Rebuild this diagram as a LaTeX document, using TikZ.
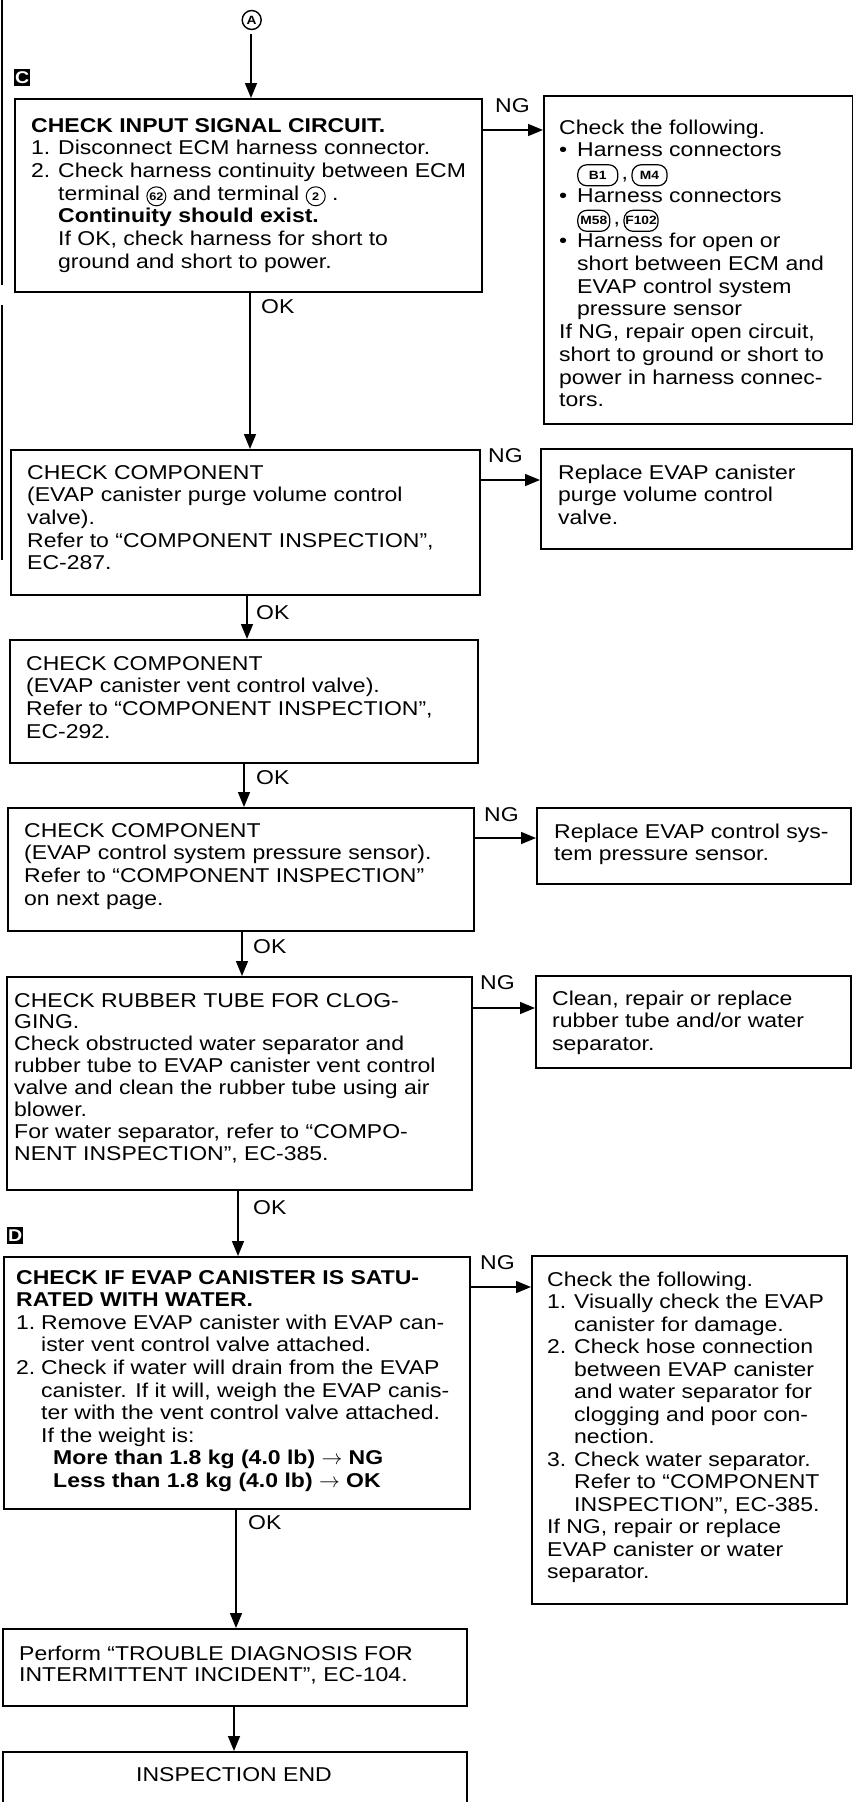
\documentclass[tikz,border=0pt]{standalone}
\usepackage{fontspec}
\setmainfont{Liberation Sans}[FakeStretch=1.15]
\usetikzlibrary{arrows.meta}
\newcommand{\circnum}[1]{\tikz[baseline=(cn.base)]\node[draw,circle,line width=1pt,inner sep=0pt,minimum size=19pt,anchor=center,font=\bfseries\fontsize{11}{11}\selectfont] (cn) {#1};}
\newcommand{\connbox}[2]{\tikz[baseline=(cn.base)]\node[draw,rounded corners=9pt,line width=1.2pt,inner sep=0pt,minimum width=#1pt,minimum height=21pt,anchor=center,font=\bfseries\fontsize{12}{12}\selectfont] (cn) {#2};}
\tikzset{
  box/.style={draw, line width=1.8pt, rectangle, inner sep=0pt, anchor=north west},
  txt/.style={anchor=base west, inner sep=0pt, font=\fontsize{20}{22.7}\selectfont},
  arr/.style={line width=1.5pt, -{Triangle[length=15pt,width=12pt]}},
  lbl/.style={inner sep=0pt, anchor=west, font=\fontsize{20}{22.7}\selectfont},
  tag/.style={fill=black, text=white, inner sep=0pt, minimum width=16pt, minimum height=17pt, anchor=north west, font=\bfseries\fontsize{17}{17}\selectfont},
}
\begin{document}
\begin{tikzpicture}[x=1pt,y=-1pt]
\useasboundingbox (0,0) rectangle (853,1802);
% left margin rule
\draw[line width=2pt] (2,0) -- (2,285);
\draw[line width=2pt] (2,305) -- (2,560);
% start connector
\node[draw, circle, line width=1.4pt, minimum size=19pt, inner sep=0pt, font=\bfseries\fontsize{12}{12}\selectfont] (A) at (251.7,20) {A};
\node[tag] (C) at (14,69) {C};
\node[tag] (D) at (7,1227) {D};
% boxes
\node[box, minimum width=467pt, minimum height=193pt] (b1) at (14,98) {};
\node[box, minimum width=309pt, minimum height=328pt] (r1) at (543,95) {};
\node[box, minimum width=469pt, minimum height=145pt] (b2) at (10,449) {};
\node[box, minimum width=311pt, minimum height=100pt] (r2) at (540,448) {};
\node[box, minimum width=468pt, minimum height=123pt] (b3) at (9,639) {};
\node[box, minimum width=466pt, minimum height=123pt] (b4) at (7,807) {};
\node[box, minimum width=314pt, minimum height=76pt] (r3) at (536,807) {};
\node[box, minimum width=465pt, minimum height=213pt] (b5) at (6,976) {};
\node[box, minimum width=315pt, minimum height=92pt] (r4) at (535,975) {};
\node[box, minimum width=466pt, minimum height=252pt] (b6) at (3,1256) {};
\node[box, minimum width=315pt, minimum height=348pt] (r5) at (531,1255) {};
\node[box, minimum width=464pt, minimum height=77pt] (b7) at (2,1628) {};
\node[box, minimum width=464pt, minimum height=75pt] (b8) at (2,1751) {};
% texts
\node[txt] (t1) at (31,132) {\begin{tabular}[t]{@{}l@{}}
\textbf{CHECK INPUT SIGNAL CIRCUIT.}\\
\makebox[27pt][l]{1.}Disconnect ECM harness connector.\\
\makebox[27pt][l]{2.}Check harness continuity between ECM\\
\hspace*{27pt}terminal \circnum{62} and terminal \circnum{2}\ .\\
\hspace*{27pt}\textbf{Continuity should exist.}\\
\hspace*{27pt}If OK, check harness for short to\\
\hspace*{27pt}ground and short to power.
\end{tabular}};
\node[txt] (tr1) at (559,134) {\begin{tabular}[t]{@{}l@{}}
Check the following.\\
\makebox[18pt][l]{•}Harness connectors\\
\hspace*{18pt}\connbox{40}{B1}\,,\,\connbox{35}{M4}\\
\makebox[18pt][l]{•}Harness connectors\\
\hspace*{18pt}\connbox{32}{M58}\,,\,\connbox{34}{F102}\\
\makebox[18pt][l]{•}Harness for open or\\
\hspace*{18pt}short between ECM and\\
\hspace*{18pt}EVAP control system\\
\hspace*{18pt}pressure sensor\\
If NG, repair open circuit,\\
short to ground or short to\\
power in harness connec-\\
tors.
\end{tabular}};
\node[txt] (t2) at (27,479) {\begin{tabular}[t]{@{}l@{}}
CHECK COMPONENT\\
(EVAP canister purge volume control\\
valve).\\
Refer to “COMPONENT INSPECTION”,\\
EC-287.
\end{tabular}};
\node[txt] (tr2) at (558,479) {\begin{tabular}[t]{@{}l@{}}
Replace EVAP canister\\
purge volume control\\
valve.
\end{tabular}};
\node[txt] (t3) at (26,670) {\begin{tabular}[t]{@{}l@{}}
CHECK COMPONENT\\
(EVAP canister vent control valve).\\
Refer to “COMPONENT INSPECTION”,\\
EC-292.
\end{tabular}};
\node[txt] (t4) at (24,837) {\begin{tabular}[t]{@{}l@{}}
CHECK COMPONENT\\
(EVAP control system pressure sensor).\\
Refer to “COMPONENT INSPECTION”\\
on next page.
\end{tabular}};
\node[txt] (tr3) at (554,838) {\begin{tabular}[t]{@{}l@{}}
Replace EVAP control sys-\\
tem pressure sensor.
\end{tabular}};
\node[txt, font=\fontsize{20}{21.9}\selectfont] (t5) at (14,1007) {\begin{tabular}[t]{@{}l@{}}
CHECK RUBBER TUBE FOR CLOG-\\
GING.\\
Check obstructed water separator and\\
rubber tube to EVAP canister vent control\\
valve and clean the rubber tube using air\\
blower.\\
For water separator, refer to “COMPO-\\
NENT INSPECTION”, EC-385.
\end{tabular}};
\node[txt] (tr4) at (552,1005) {\begin{tabular}[t]{@{}l@{}}
Clean, repair or replace\\
rubber tube and/or water\\
separator.
\end{tabular}};
\node[txt, font=\fontsize{20}{22.6}\selectfont] (t6) at (16,1284) {\begin{tabular}[t]{@{}l@{}}
\textbf{CHECK IF EVAP CANISTER IS SATU-}\\
\textbf{RATED WITH WATER.}\\
\makebox[25pt][l]{1.}Remove EVAP canister with EVAP can-\\
\hspace*{25pt}ister vent control valve attached.\\
\makebox[25pt][l]{2.}Check if water will drain from the EVAP\\
\hspace*{25pt}canister. If it will, weigh the EVAP canis-\\
\hspace*{25pt}ter with the vent control valve attached.\\
\hspace*{25pt}If the weight is:\\
\hspace*{37pt}\textbf{More than 1.8 kg (4.0 lb) $\rightarrow$ NG}\\
\hspace*{37pt}\textbf{Less than 1.8 kg (4.0 lb) $\rightarrow$ OK}
\end{tabular}};
\node[txt, font=\fontsize{20}{22.5}\selectfont] (tr5) at (547,1286) {\begin{tabular}[t]{@{}l@{}}
Check the following.\\
\makebox[27pt][l]{1.}Visually check the EVAP\\
\hspace*{27pt}canister for damage.\\
\makebox[27pt][l]{2.}Check hose connection\\
\hspace*{27pt}between EVAP canister\\
\hspace*{27pt}and water separator for\\
\hspace*{27pt}clogging and poor con-\\
\hspace*{27pt}nection.\\
\makebox[27pt][l]{3.}Check water separator.\\
\hspace*{27pt}Refer to “COMPONENT\\
\hspace*{27pt}INSPECTION”, EC-385.\\
If NG, repair or replace\\
EVAP canister or water\\
separator.
\end{tabular}};
\node[txt, font=\fontsize{20}{21}\selectfont] (t7) at (19,1660) {\begin{tabular}[t]{@{}l@{}}
Perform “TROUBLE DIAGNOSIS FOR\\
INTERMITTENT INCIDENT”, EC-104.
\end{tabular}};
\node[inner sep=0pt, font=\fontsize{20}{22.7}\selectfont] (t8) at (234,1775) {INSPECTION END};
% NG / OK labels
\node[lbl] (ng1) at (495,106) {NG};
\node[lbl] (ng2) at (488,456) {NG};
\node[lbl] (ng3) at (484,815) {NG};
\node[lbl] (ng4) at (480,983) {NG};
\node[lbl] (ng5) at (480,1263) {NG};
\node[lbl] (ok1) at (261,307) {OK};
\node[lbl] (ok2) at (256,613) {OK};
\node[lbl] (ok3) at (256,778) {OK};
\node[lbl] (ok4) at (253,947) {OK};
\node[lbl] (ok5) at (253,1208) {OK};
\node[lbl] (ok6) at (248,1523) {OK};
% main flow
\draw[arr] (251,0 |- A.south) ++(0,4) -- (251,0 |- b1.north);
\draw[arr] (250,0 |- b1.south) -- (250,0 |- b2.north);
\draw[arr] (247,0 |- b2.south) -- (247,0 |- b3.north);
\draw[arr] (244,0 |- b3.south) -- (244,0 |- b4.north);
\draw[arr] (242,0 |- b4.south) -- (242,0 |- b5.north);
\draw[arr] (238,0 |- b5.south) -- (238,0 |- b6.north);
\draw[arr] (236,0 |- b6.south) -- (236,0 |- b7.north);
\draw[arr] (234,0 |- b7.south) -- (234,0 |- b8.north);
% NG branches
\draw[arr] (b1.east |- 0,130) -- (r1.west |- 0,130);
\draw[arr] (b2.east |- 0,480) -- (r2.west |- 0,480);
\draw[arr] (b4.east |- 0,838) -- (r3.west |- 0,838);
\draw[arr] (b5.east |- 0,1008) -- (r4.west |- 0,1008);
\draw[arr] (b6.east |- 0,1287) -- (r5.west |- 0,1287);
\end{tikzpicture}
\end{document}
